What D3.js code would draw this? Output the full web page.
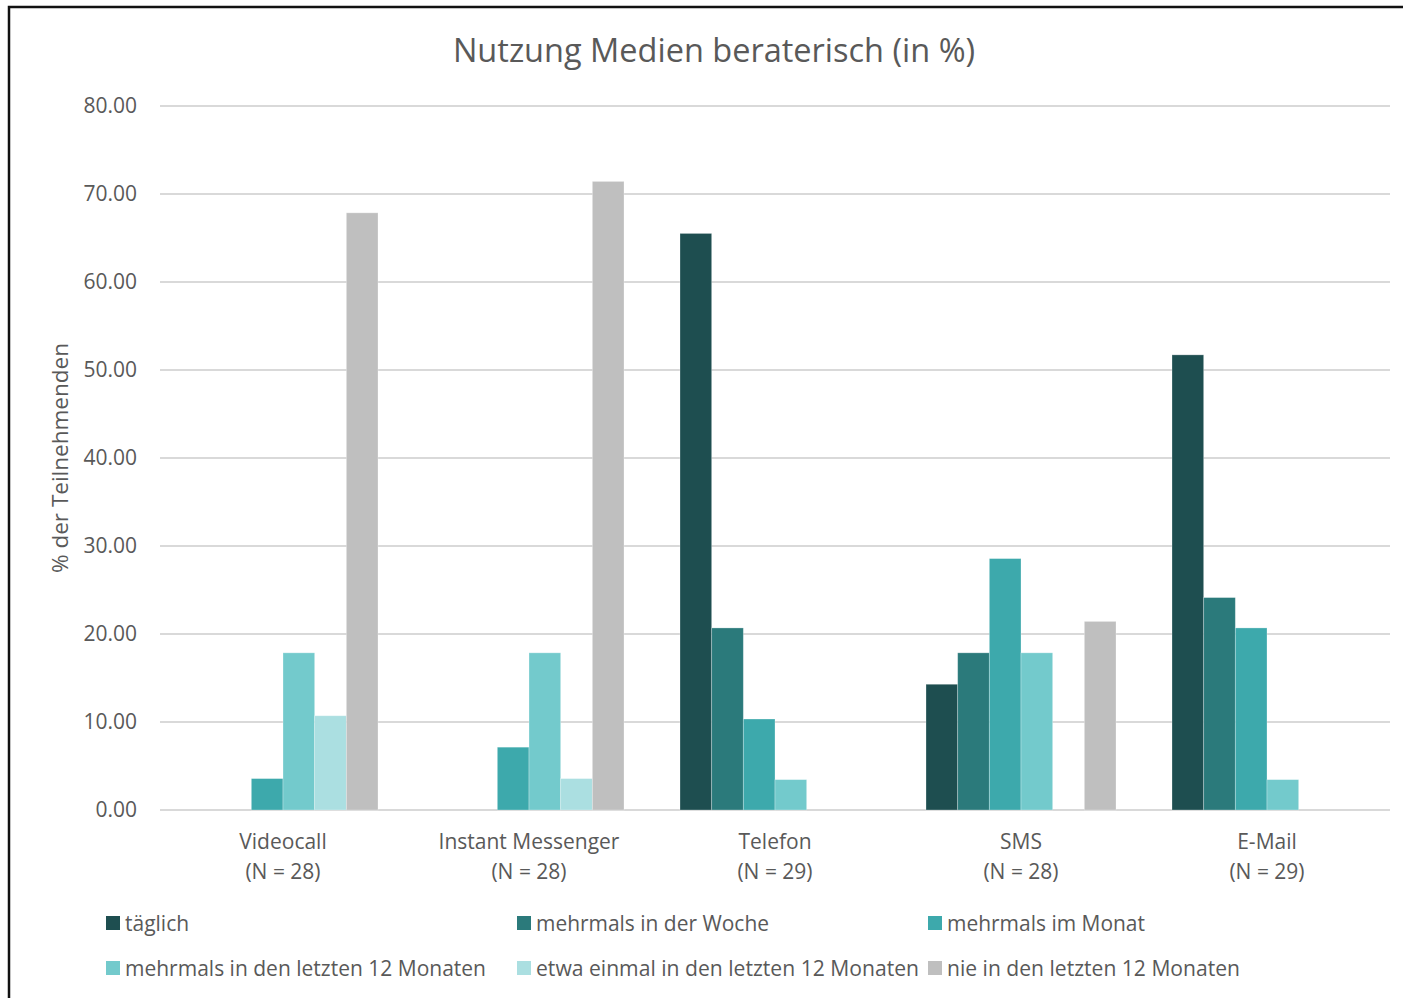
<!DOCTYPE html>
<html>
<head>
<meta charset="utf-8">
<script src="https://cdn.jsdelivr.net/npm/d3@7"></script>
<style>
  body { margin: 0; background: #fff; }
  svg { display: block; font-family: "Open Sans", "Noto Sans", sans-serif; }
</style>
</head>
<body>
<script>
// categories (two-line labels)
var categories = ["Videocall", "Instant Messenger", "Telefon", "SMS", "E-Mail"];
var sampleSizes = ["(N = 28)", "(N = 28)", "(N = 29)", "(N = 28)", "(N = 29)"];

var seriesNames = ["täglich", "mehrmals in der Woche", "mehrmals im Monat",
  "mehrmals in den letzten 12 Monaten", "etwa einmal in den letzten 12 Monaten", "nie in den letzten 12 Monaten"];
var seriesColors = ["#1e4e50", "#2b7a7b", "#3da9ac", "#73cacc", "#abdfe1", "#bfbfbf"];

// values per series, in category order
var taeglich   = [0, 0, 65.52, 14.29, 51.72];
var woche      = [0, 0, 20.69, 17.86, 24.14];
var monat      = [3.57, 7.14, 10.34, 28.57, 20.69];
var zwoelfMon  = [17.86, 17.86, 3.45, 17.86, 3.45];
var einmal     = [10.71, 3.57, 0, 0, 0];
var nie        = [67.86, 71.43, 0, 21.43, 0];
var seriesValues = [taeglich, woche, monat, zwoelfMon, einmal, nie];

var yTicks = [0, 10, 20, 30, 40, 50, 60, 70, 80];

var W = 1403, H = 998;
var svg = d3.select("body").append("svg").attr("width", W).attr("height", H);

// outer frame
svg.append("rect")
  .attr("x", 9).attr("y", 7).attr("width", 1500).attr("height", 1100)
  .attr("fill", "none").attr("stroke", "#111").attr("stroke-width", 2.5);

var plotLeft = 160, plotRight = 1390, plotTop = 106, plotBottom = 810;

var x0 = d3.scaleBand().domain(categories).range([plotLeft, plotRight]).padding(0);
var barsWidth = 190;
var x1 = d3.scaleBand().domain(d3.range(seriesNames.length))
  .range([(x0.bandwidth() - barsWidth) / 2, (x0.bandwidth() + barsWidth) / 2]).padding(0);
var y = d3.scaleLinear().domain([0, 80]).range([plotBottom, plotTop]);

// grid
svg.append("g").selectAll("line").data(yTicks).enter().append("line")
  .attr("x1", plotLeft).attr("x2", plotRight)
  .attr("y1", d => y(d)).attr("y2", d => y(d))
  .attr("stroke", "#d9d9d9").attr("stroke-width", 2);

// y tick labels
svg.append("g").selectAll("text").data(yTicks).enter().append("text")
  .attr("x", 137).attr("y", d => y(d) + 7)
  .attr("text-anchor", "end")
  .attr("font-size", 21).attr("fill", "#595959")
  .text(d => d3.format(".2f")(d));

// bars
seriesValues.forEach(function (vals, si) {
  svg.append("g").selectAll("rect").data(vals).enter().append("rect")
    .attr("x", (d, i) => x0(categories[i]) + x1(si))
    .attr("y", d => y(d))
    .attr("width", x1.bandwidth())
    .attr("height", d => plotBottom - y(d))
    .attr("fill", seriesColors[si])
    .attr("stroke", d => d > 0 ? "rgba(255,255,255,0.35)" : "none")
    .attr("stroke-width", 0.8);
});

// category labels
var catG = svg.append("g");
categories.forEach(function (c, i) {
  var cx = x0(c) + x0.bandwidth() / 2;
  catG.append("text").attr("x", cx).attr("y", 849).attr("text-anchor", "middle")
    .attr("font-size", 21).attr("fill", "#595959").text(c);
  catG.append("text").attr("x", cx).attr("y", 879).attr("text-anchor", "middle")
    .attr("font-size", 21).attr("fill", "#595959").text(sampleSizes[i]);
});

// title
svg.append("text").attr("x", 714).attr("y", 62).attr("text-anchor", "middle")
  .attr("font-size", 32.5).attr("fill", "#595959")
  .text("Nutzung Medien beraterisch (in %)");

// y axis label
svg.append("text")
  .attr("transform", "translate(68,458) rotate(-90)")
  .attr("text-anchor", "middle")
  .attr("font-size", 22.5).attr("fill", "#595959")
  .text("% der Teilnehmenden");

// legend
var legendX = [106, 517, 928];
var legendY = [923, 968];
var legendLen = [null, 233, 198, 361, 383, 293];
seriesNames.forEach(function (name, i) {
  var lx = legendX[i % 3], ly = legendY[Math.floor(i / 3)];
  svg.append("rect").attr("x", lx).attr("y", ly - 7).attr("width", 14).attr("height", 14)
    .attr("fill", seriesColors[i]);
  var t = svg.append("text").attr("x", lx + 19).attr("y", ly + 8)
    .attr("font-size", 21).attr("fill", "#595959").text(name);
  if (legendLen[i]) t.attr("textLength", legendLen[i]).attr("lengthAdjust", "spacingAndGlyphs");
});
</script>
</body>
</html>
